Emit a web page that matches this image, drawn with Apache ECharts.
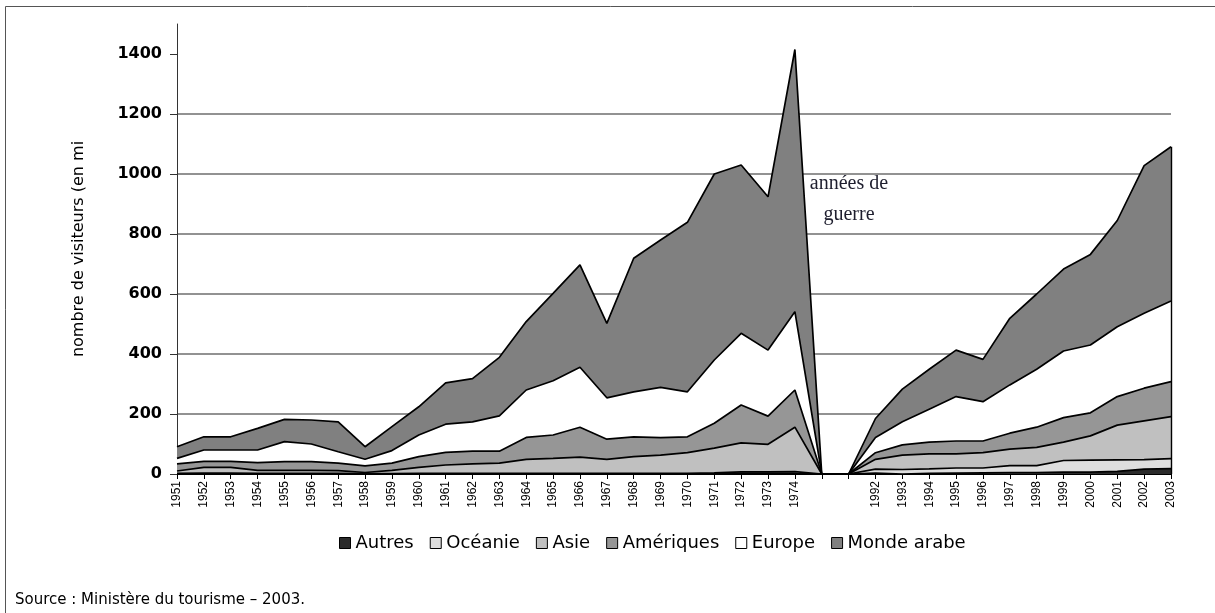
<!DOCTYPE html>
<html>
<head>
<meta charset="utf-8">
<style>
html, body { margin: 0; padding: 0; background: #fff; }
#chart { width: 1215px; height: 613px; }
</style>
<script src="https://cdn.jsdelivr.net/npm/echarts@6/dist/echarts.min.js"></script>
</head>
<body>
<div id="chart"></div>
<script>
// années 1951-1974, puis deux positions vides (années de guerre), puis 1992-2003
const yearsBefore = ['1951','1952','1953','1954','1955','1956','1957','1958','1959','1960','1961','1962',
	'1963','1964','1965','1966','1967','1968','1969','1970','1971','1972','1973','1974'];
const warGap = ['', ' '];
const yearsAfter = ['1992','1993','1994','1995','1996','1997','1998','1999','2000','2001','2002','2003'];

const seriesNames = ['Autres', 'Océanie', 'Asie', 'Amériques', 'Europe', 'Monde arabe'];
const fillColors = ['#2b2b2b', '#dedede', '#c0c0c0', '#969696', '#ffffff', '#808080'];

// milliers de visiteurs, par région
const autresBefore = [0,0,0,0,0,0,0,0,0,0,0,0,0,0,0,0,0,0,0,0,1,3,3,2];
const autresAfter = [3,0,2,3,4,5,5,6,6,9,16,18];
const oceanieBefore = [2,3,3,2,2,2,2,1,1,2,2,2,2,2,2,2,2,2,2,2,3,4,4,6];
const oceanieAfter = [13,15,15,17,16,23,23,39,40,38,32,33];
const asieBefore = [8,19,19,10,10,10,9,4,11,20,28,32,34,47,50,54,47,56,61,69,82,97,92,148];
const asieAfter = [33,48,50,47,51,55,61,61,81,116,129,140];
const ameriquesBefore = [24,20,20,26,29,29,25,22,24,36,42,42,40,73,78,100,67,66,58,53,83,126,94,124];
const ameriquesAfter = [22,34,39,43,39,53,67,82,77,95,109,117];
const europeBefore = [18,38,38,42,67,59,38,22,42,72,94,98,118,158,181,200,138,150,168,150,211,239,220,261];
const europeAfter = [51,77,110,148,131,161,193,222,226,233,250,269];
const mondeArabeBefore = [39,44,44,72,74,80,100,42,80,94,138,144,195,228,291,341,248,445,491,565,620,561,511,874];
const mondeArabeAfter = [63,109,133,155,141,222,251,273,302,354,492,514];

const yTicks = [0, 200, 400, 600, 800, 1000, 1200, 1400];

const categories = yearsBefore.concat(warGap, yearsAfter);
const join = (a, b) => a.concat([0, 0], b);
const seriesData = [
	join(autresBefore, autresAfter),
	join(oceanieBefore, oceanieAfter),
	join(asieBefore, asieAfter),
	join(ameriquesBefore, ameriquesAfter),
	join(europeBefore, europeAfter),
	join(mondeArabeBefore, mondeArabeAfter)
];

const lastYear = yearsAfter[yearsAfter.length - 1];
let lastTotal = 0;
seriesData.forEach(d => { lastTotal += d[d.length - 1]; });

const myChart = echarts.init(document.getElementById('chart'));

const series = seriesNames.map((name, i) => {
	const s = {
		name: name,
		type: 'line',
		stack: 'total',
		data: seriesData[i],
		symbol: 'none',
		showSymbol: false,
		itemStyle: { color: fillColors[i] },
		lineStyle: { color: '#000', width: 1.7 },
		areaStyle: { color: fillColors[i], opacity: 1 },
		emphasis: { disabled: true },
		z: 2
	};
	if (i === seriesNames.length - 1) {
		s.markLine = {
			silent: true,
			symbol: 'none',
			label: { show: false },
			lineStyle: { color: '#000', width: 1.4, type: 'solid' },
			data: [[{ coord: [lastYear, 0] }, { coord: [lastYear, lastTotal] }]]
		};
	}
	return s;
});

const option = {
	animation: false,
	backgroundColor: '#fff',
	grid: {
		left: 177,
		right: 44,
		top: 24,
		bottom: 139,
		outerBoundsMode: 'none'
	},
	legend: {
		data: seriesNames,
		left: 334,
		top: 529,
		icon: 'rect',
		itemWidth: 11,
		itemHeight: 11,
		itemGap: 16,
		selectedMode: false,
		itemStyle: { borderColor: '#000', borderWidth: 1 },
		textStyle: { fontFamily: 'DejaVu Sans', fontSize: 18, color: '#000' }
	},
	xAxis: {
		type: 'category',
		boundaryGap: false,
		data: categories,
		axisLine: { lineStyle: { color: '#000', width: 1 } },
		axisTick: { show: true, interval: 0, length: 5, lineStyle: { color: '#000' } },
		axisLabel: {
			interval: 0,
			rotate: 90,
			margin: 7,
			fontFamily: 'Liberation Sans',
			fontSize: 12,
			color: '#000'
		},
		splitLine: { show: false }
	},
	yAxis: {
		type: 'value',
		min: 0,
		max: 1500,
		interval: 200,
		name: 'nombre de visiteurs (en mi',
		nameLocation: 'middle',
		nameGap: 90,
		nameTextStyle: { fontFamily: 'DejaVu Sans', fontSize: 16, color: '#000' },
		axisLine: { show: true, lineStyle: { color: '#333', width: 1 } },
		axisTick: { show: true, length: 7, lineStyle: { color: '#333' }, customValues: yTicks },
		axisLabel: {
			showMaxLabel: false,
			margin: 15,
			formatter: v => String(v),
			fontFamily: 'DejaVu Sans',
			fontWeight: 'bold',
			fontSize: 16,
			color: '#000'
		},
		splitLine: { show: true, showMaxLine: false, lineStyle: { color: '#6e6e6e', width: 1.5 } }
	},
	graphic: [
		{
			type: 'text',
			x: 849,
			y: 168,
			z: 100,
			silent: true,
			style: {
				text: 'années de\nguerre',
				align: 'center',
				verticalAlign: 'top',
				fontFamily: 'Liberation Serif',
				fontSize: 20,
				lineHeight: 31,
				fill: '#1e1e2e'
			}
		},
		{
			type: 'text',
			left: 15,
			top: 593,
			style: {
				text: 'Source : Ministère du tourisme – 2003.',
				fontFamily: 'DejaVu Sans',
				fontSize: 15,
				fill: '#000'
			}
		},
		{
			type: 'polyline',
			silent: true,
			shape: { points: [[5.5, 613], [5.5, 6.5], [1215, 6.5]] },
			style: { stroke: '#555', lineWidth: 1, fill: null }
		}
	],
	series: series
};

myChart.setOption(option);
</script>
</body>
</html>
